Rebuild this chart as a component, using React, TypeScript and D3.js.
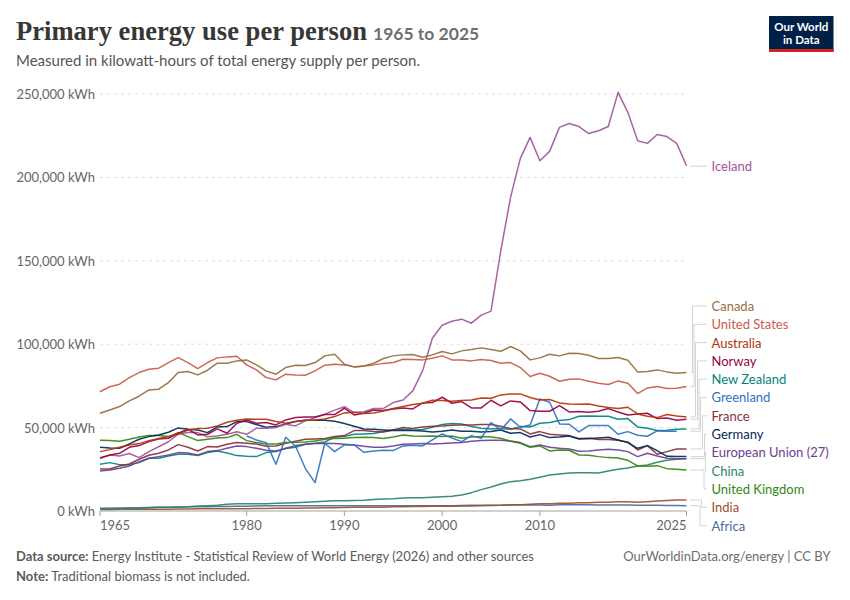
import * as d3 from "d3";

const WIDTH = 850;
const HEIGHT = 600;
const MARGIN = { top: 94, right: 163.5, bottom: 89, left: 100 };
const FONT = "Lato, sans-serif";

const years = d3.range(1965, 2026);
const greenlandYears = d3.range(1980, 2025);
const xTicks = [1965, 1980, 1990, 2000, 2010, 2025];
const yTicks = [0, 50000, 100000, 150000, 200000, 250000];

// all values in thousand kWh
const canada = [
  58.6, 60.6, 62.6, 66, 68.8, 72.6, 73, 77, 83, 83.6,
  81.6, 84.4, 88.6, 88.6, 90, 90.6, 87.6, 84, 82, 86,
  87.4, 87.2, 89, 93, 94, 88, 86.4, 87, 88.6, 91.4,
  93, 93.6, 93.8, 92.2, 93.6, 95.6, 94.2, 96, 96.8, 97.8,
  96.8, 95.8, 98.6, 96, 90.6, 91.8, 94, 93, 94.6, 94.4,
  93.4, 91.4, 91.4, 92, 90.4, 83.4, 83.6, 84.6, 83.4, 82.6, 83,
];
const unitedStates = [
  71.5, 74.5, 76, 80, 83, 85, 85.6, 89, 92, 89,
  85.4, 89, 91.8, 92.4, 92.8, 87.6, 84.6, 80, 78.6, 82,
  81.6, 81.4, 84, 87.4, 88, 87.6, 86.4, 87, 87.6, 88.5,
  89, 91, 90.8, 90.6, 91.6, 93, 90.6, 90.6, 90, 90.8,
  90.2, 88.6, 89, 86, 80.6, 82.6, 80.8, 77.8, 79, 79.2,
  77.8, 76.6, 75.8, 78, 76.6, 70.4, 73.8, 74.6, 73.4, 73.6, 74.6,
];
const australia = [
  35.6, 36.8, 38.2, 39.6, 40.4, 42.2, 43.4, 44.6, 46.2, 48.6,
  49.4, 49.6, 51, 53.2, 54.4, 55.2, 55, 55, 53.6, 52.6,
  53.6, 54.4, 54.6, 55.2, 56.6, 58.8, 59.2, 58.4, 58.8, 60,
  61.4, 62.6, 63.8, 64.6, 66.4, 66.2, 65.8, 66.2, 66.6, 67.8,
  67.6, 69.6, 70.2, 70.2, 68, 66.6, 66.8, 64.8, 64.2, 64,
  64.2, 63, 62, 61.4, 62.2, 58.2, 56.8, 56, 57.8, 57, 56.4,
];
const norway = [
  31.6, 33.6, 34.6, 38.2, 39.2, 41.6, 43.2, 43.6, 46.6, 49,
  45.6, 46, 49.2, 46.6, 52.6, 54.6, 52.6, 53, 51.6, 54.6,
  56, 56.4, 56.4, 57.8, 57.8, 61.6, 57.6, 58.6, 60.6, 60.2,
  61.2, 61.8, 61.2, 64.8, 65, 68.2, 64.6, 65.6, 61.8, 61.8,
  66.4, 63, 66, 65.4, 60.2, 59.8, 59.8, 63.2, 59.4, 59.6,
  59.2, 59.8, 61.4, 59.4, 57.6, 58.2, 58.6, 55.4, 55.8, 54.4, 55,
];
const newZealand = [
  28, 29, 27.8, 27.8, 29, 31.6, 31.6, 33, 34, 34,
  33.2, 35, 36, 34.8, 33.2, 32.8, 32.6, 35, 35.6, 37.4,
  38.2, 40, 40.6, 41.4, 44.2, 44.6, 46, 46.2, 46.4, 47.6,
  48.6, 49, 48.4, 48.8, 50.2, 51.8, 52.4, 52.2, 50.6, 49.6,
  49.2, 49.4, 49, 50.6, 50.4, 52.6, 53, 54.2, 54.8, 56.8,
  57, 56.8, 56.8, 55, 55.4, 50.4, 49.6, 48.2, 48.4, 49, 49.2,
];
const greenland = [
  45, 42.6, 41, 28, 44.2, 39, 25.6, 17, 40.6, 35.6,
  39.6, 39.6, 35.2, 36, 36.4, 36.2, 39, 39.4, 39, 42.6,
  46.2, 43.8, 41.6, 45.2, 43.6, 53, 48.6, 55.2, 50.2, 51.6,
  67.2, 65.2, 52.2, 52, 47.4, 51.2, 51.2, 51.2, 46, 47.6,
  45.4, 44.8, 48, 47.8, 47.8,
];
const france = [
  25.2, 25.2, 27, 28.2, 31, 33.4, 34.6, 36.6, 39.8, 38.2,
  36, 38.6, 38.4, 40, 41, 40.6, 40.2, 38.8, 39, 40.6,
  41.8, 43, 43.2, 43.4, 44.6, 45.2, 48.2, 48.2, 47.6, 47.4,
  48.6, 50, 49.4, 50.4, 50.8, 51, 51.4, 51.6, 51.6, 51.8,
  51.8, 50.8, 49.4, 49.2, 46.2, 47.6, 46, 45.6, 45.2, 43.4,
  43.6, 42.8, 42.8, 42.4, 41.4, 36.6, 39.2, 34, 35.6, 37.2, 37.2,
];
const germany = [
  38.2, 37.8, 37.6, 40.2, 43, 44.6, 45.6, 47.2, 49.8, 49,
  48.6, 47, 50.4, 50.6, 53.6, 53.6, 51.8, 50.2, 50.6, 52.2,
  53.6, 54.4, 54.4, 54.4, 53.8, 52.4, 50.8, 49.2, 49, 48.6,
  48.2, 48.2, 48.2, 48, 47.4, 47.8, 48.6, 47.8, 47.8, 47.4,
  47.6, 48.6, 46.6, 47, 44.4, 45.8, 44, 44.4, 45, 43.2,
  43.4, 43.8, 44.2, 42.6, 41, 37.6, 39.2, 36.2, 32.8, 32.6, 32.6,
];
const europeanUnion = [
  24, 24.6, 25.6, 27, 29.6, 31.6, 32.6, 33.6, 35, 34.8,
  33.6, 35.6, 36.2, 37.6, 39, 38.6, 37.6, 36.4, 36, 37.6,
  39.2, 40, 40.4, 40.6, 40.4, 40, 39.6, 38.8, 38.2, 38.2,
  39, 40, 40.2, 40.4, 40.2, 40.4, 40.8, 41, 41.8, 42.2,
  42.4, 42.4, 42, 41, 38.6, 39.6, 38.2, 37.6, 37.2, 35.8,
  36, 36.6, 37, 36.6, 35.6, 32.6, 34.6, 33, 31.6, 31.4, 31.4,
];
const china = [
  1.4, 1.5, 1.3, 1.3, 1.5, 1.9, 2.2, 2.3, 2.4, 2.5,
  3, 3.2, 3.5, 4, 4.3, 4.4, 4.3, 4.4, 4.6, 4.8,
  5, 5.3, 5.6, 5.9, 6.1, 6.2, 6.3, 6.5, 6.9, 7.2,
  7.4, 7.8, 7.9, 8, 8.3, 8.6, 8.9, 9.6, 11, 12.8,
  14.4, 16.2, 17.6, 18.2, 19, 20.2, 21.6, 22.2, 22.8, 23,
  23, 22.8, 24, 25, 25.8, 27, 27.6, 29.2, 30.4, 31, 31.4,
];
const unitedKingdom = [
  42.4, 42.2, 41.8, 43, 44.4, 45.2, 45.2, 44.6, 47, 44.6,
  42.2, 43, 43.8, 44, 46, 42.2, 41, 40.2, 40.2, 41,
  41.2, 41.4, 42, 43, 43.5, 43.6, 44, 44.2, 44, 43.4,
  44.4, 45.6, 45, 44.8, 45, 44.6, 45, 43.6, 44.4, 44.6,
  44.4, 43.6, 41.8, 40.6, 38.2, 39, 36, 36.6, 36.4, 33.6,
  33.4, 32.6, 32, 31.8, 30.4, 27, 26.8, 27.2, 25.4, 25, 24.6,
];
const india = [
  0.9, 0.9, 1, 1, 1, 1.1, 1.1, 1.1, 1.2, 1.2,
  1.3, 1.3, 1.4, 1.4, 1.4, 1.4, 1.5, 1.5, 1.6, 1.6,
  1.7, 1.8, 1.8, 1.9, 2, 2.1, 2.2, 2.2, 2.3, 2.3,
  2.5, 2.6, 2.7, 2.7, 2.8, 2.9, 2.9, 3, 3, 3.2,
  3.3, 3.4, 3.7, 3.8, 4.1, 4.3, 4.4, 4.6, 4.7, 4.9,
  5, 5.2, 5.3, 5.6, 5.6, 5.2, 5.6, 6, 6.3, 6.6, 6.6,
];
const africa = [
  1.7, 1.7, 1.8, 1.9, 2, 2.1, 2.2, 2.3, 2.4, 2.5,
  2.5, 2.6, 2.7, 2.7, 2.8, 2.9, 3, 3.1, 3.1, 3.1,
  3.2, 3.1, 3.1, 3.2, 3.2, 3.2, 3.2, 3.1, 3.1, 3.1,
  3.1, 3.2, 3.2, 3.2, 3.2, 3.2, 3.2, 3.3, 3.4, 3.5,
  3.5, 3.5, 3.6, 3.6, 3.6, 3.6, 3.5, 3.7, 3.7, 3.7,
  3.7, 3.6, 3.6, 3.6, 3.6, 3.4, 3.4, 3.4, 3.3, 3.3, 3.2,
];
const iceland = [
  32, 33.5, 33, 34.5, 32, 35.6, 38.5, 41.5, 46, 47,
  47, 44.5, 45, 46, 47.5, 46, 49.6, 49.6, 50, 52,
  51, 54, 56, 58, 60.5, 62.5, 59, 59.5, 61.5, 61.5,
  65, 66.5, 72, 84, 103.6, 111.4, 113.8, 115, 112.6, 117.4,
  119.8, 156, 188, 211.4, 224, 210, 215.6, 230, 232.3, 230.5,
  226.3, 228, 230.5, 251, 239, 222, 220.4, 225.7, 224.5, 220.4, 207,
];

// labels stacked in the column, top to bottom. elbow = x of the connector's vertical run
const columnSeries = [
  { name: "Canada", values: canada, color: "#996D39", elbow: 692.5 },
  { name: "United States", values: unitedStates, color: "#CC5A48", elbow: 694 },
  { name: "Australia", values: australia, color: "#B13507", elbow: 695.5 },
  { name: "Norway", values: norway, color: "#970046", elbow: 697.5 },
  { name: "New Zealand", values: newZealand, color: "#00847E", elbow: 699 },
  { name: "Greenland", values: greenland, color: "#2F72C4", elbow: 700.5 },
  { name: "France", values: france, color: "#883039", elbow: 702.5 },
  { name: "Germany", values: germany, color: "#00295B", elbow: 704.5 },
  { name: "European Union (27)", values: europeanUnion, color: "#6D3E91", elbow: 705.5 },
  { name: "China", values: china, color: "#2C8465", elbow: 705.5 },
  { name: "United Kingdom", values: unitedKingdom, color: "#338711", elbow: 704 },
  { name: "India", values: india, color: "#9A5129", elbow: 701.5 },
  { name: "Africa", values: africa, color: "#4C6A9C", elbow: 700 },
];
const icelandSeries = { name: "Iceland", values: iceland, color: "#A2559C" };

const drawOrder = [
  "Africa", "India", "China", "New Zealand", "European Union (27)", "France",
  "United Kingdom", "Germany", "Greenland", "Iceland", "Norway", "Australia",
  "United States", "Canada",
];

export default function App() {
  const innerRight = WIDTH - MARGIN.right;
  const innerBottom = HEIGHT - MARGIN.bottom;

  const xScale = d3.scaleLinear().domain([1965, 2025]).range([MARGIN.left, innerRight]);
  const yScale = d3.scaleLinear().domain([0, 250000]).range([innerBottom, MARGIN.top]);
  const labelY = d3
    .scalePoint<string>()
    .domain(columnSeries.map((d) => d.name))
    .range([306, 525.6]);

  const allSeries = [...columnSeries, icelandSeries];
  const pointsOf = (values: number[]) => {
    const xs = values.length === greenlandYears.length ? greenlandYears : years;
    return values.map((v, i) => [xs[i], v * 1000] as [number, number]);
  };
  const lineGen = d3
    .line<[number, number]>()
    .x((d) => xScale(d[0]))
    .y((d) => yScale(d[1]));

  const shapes = drawOrder.map((name) => {
    const s = allSeries.find((d) => d.name === name)!;
    return (
      <path
        key={name}
        d={lineGen(pointsOf(s.values)) ?? ""}
        fill="none"
        stroke={s.color}
        strokeWidth={1.5}
        strokeOpacity={0.92}
        strokeLinejoin="round"
      />
    );
  });

  const connectors = columnSeries.map((s) => {
    const last = s.values[s.values.length - 1] * 1000;
    const y0 = yScale(last);
    const y1 = labelY(s.name)!;
    return (
      <path
        key={s.name}
        d={`M690.5,${y0}H${s.elbow}V${y1}H707`}
        fill="none"
        stroke="#d4d4d4"
        strokeWidth={1}
      />
    );
  });

  const icelandEnd = yScale(iceland[iceland.length - 1] * 1000);

  const grid = yTicks.map((tick) => (
    <g key={tick}>
      <line
        x1={MARGIN.left}
        x2={innerRight}
        y1={yScale(tick)}
        y2={yScale(tick)}
        stroke={tick === 0 ? "#a1a1a1" : "#dddddd"}
        strokeDasharray={tick === 0 ? undefined : "3,4"}
      />
      <text
        x={95}
        y={yScale(tick)}
        dy="0.38em"
        textAnchor="end"
        fontSize={13}
        fill="#666666"
      >
        {d3.format(",")(tick)} kWh
      </text>
    </g>
  ));

  const xAxis = xTicks.map((tick, i) => (
    <g key={tick}>
      <line
        x1={xScale(tick)}
        x2={xScale(tick)}
        y1={innerBottom}
        y2={innerBottom + 5}
        stroke="#a1a1a1"
      />
      <text
        x={xScale(tick)}
        y={innerBottom + 19}
        textAnchor={i === 0 ? "start" : i === xTicks.length - 1 ? "end" : "middle"}
        fontSize={13}
        fill="#666666"
      >
        {tick}
      </text>
    </g>
  ));

  return (
    <svg
      width={WIDTH}
      height={HEIGHT}
      fontFamily={FONT}
      style={{ position: "absolute", left: 0, top: 0, background: "#fff" }}
    >
      <text
        x={16}
        y={40}
        fontFamily="'Liberation Serif', serif"
        fontWeight={700}
        fontSize={27}
        fill="#373737"
        textLength={351}
        lengthAdjust="spacingAndGlyphs"
      >
        Primary energy use per person
      </text>
      <text x={373} y={40} fontSize={17.5} fontWeight={700} fill="#6e6e6e">
        1965 to 2025
      </text>
      <text x={16} y={66} fontSize={15} fill="#555555">
        Measured in kilowatt-hours of total energy supply per person.
      </text>

      <rect x={769} y={16} width={64.5} height={36} fill="#002147" />
      <rect x={769} y={49} width={64.5} height={3} fill="#ce261e" />
      <text x={801.3} y={31} textAnchor="middle" fontSize={11.5} fontWeight={700} fill="#ffffff">
        Our World
      </text>
      <text x={801.3} y={44} textAnchor="middle" fontSize={11.5} fontWeight={700} fill="#ffffff">
        in Data
      </text>

      {grid}
      {xAxis}
      {shapes}
      {connectors}
      <line x1={690.5} x2={707} y1={icelandEnd + 0.5} y2={icelandEnd + 0.5} stroke="#d4d4d4" />

      {columnSeries.map((s) => (
        <text
          key={s.name}
          x={711.5}
          y={labelY(s.name)!}
          dy="0.38em"
          fontSize={13}
          fill={s.color}
        >
          {s.name}
        </text>
      ))}
      <text x={711.5} y={icelandEnd + 0.5} dy="0.38em" fontSize={13} fill={icelandSeries.color}>
        {icelandSeries.name}
      </text>

      <text x={16} y={561} fontSize={13} fill="#5b5b5b">
        <tspan fontWeight={700}>Data source:</tspan> Energy Institute - Statistical Review of World
        Energy (2026) and other sources
      </text>
      <text x={830.5} y={561} textAnchor="end" fontSize={13} fill="#6e6e6e">
        OurWorldinData.org/energy | CC BY
      </text>
      <text x={16} y={581} fontSize={13} fill="#5b5b5b">
        <tspan fontWeight={700}>Note:</tspan> Traditional biomass is not included.
      </text>
    </svg>
  );
}
